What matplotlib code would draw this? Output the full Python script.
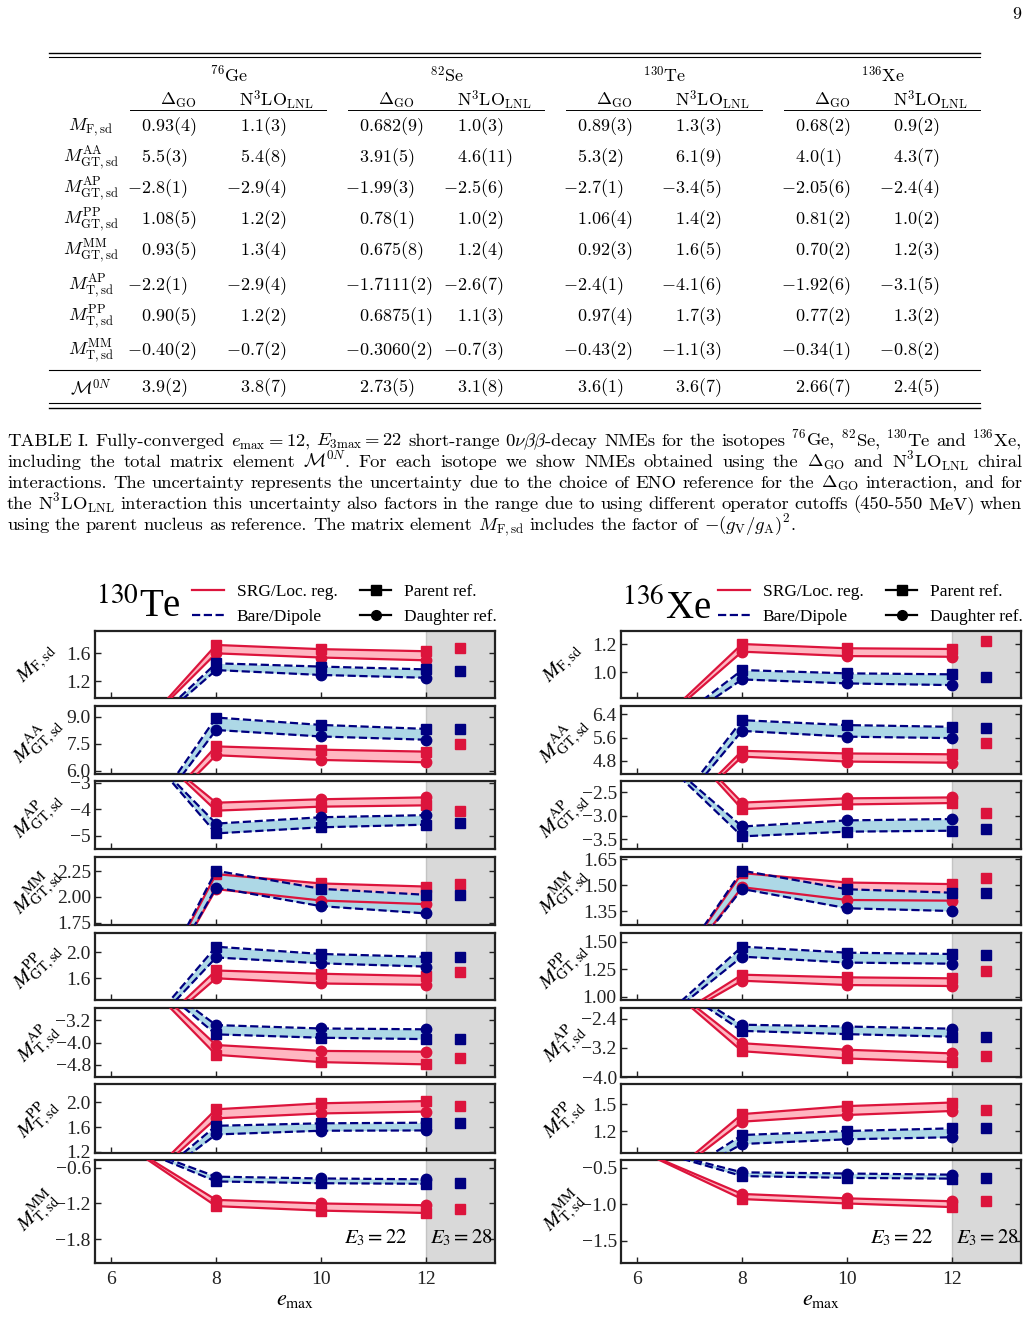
import matplotlib
matplotlib.use('Agg')
import matplotlib.pyplot as plt
from matplotlib.lines import Line2D

plt.rcParams['font.family'] = ['Liberation Serif', 'DejaVu Serif']
plt.rcParams['mathtext.fontset'] = 'stix'

W, H = 1029, 1342

# ---------------- data: plot ----------------
emax = [6, 8, 10, 12]
e3_28_pos = 12.65

panel_labels = [r'$M_{\mathrm{F,sd}}$', r'$M^{\mathrm{AA}}_{\mathrm{GT,sd}}$',
                r'$M^{\mathrm{AP}}_{\mathrm{GT,sd}}$', r'$M^{\mathrm{MM}}_{\mathrm{GT,sd}}$',
                r'$M^{\mathrm{PP}}_{\mathrm{GT,sd}}$', r'$M^{\mathrm{AP}}_{\mathrm{T,sd}}$',
                r'$M^{\mathrm{PP}}_{\mathrm{T,sd}}$', r'$M^{\mathrm{MM}}_{\mathrm{T,sd}}$']

# 130Te, rows = panels, cols = emax 6, 8, 10, 12
te_srg_parent = [[0.05, 1.72, 1.66, 1.63], [1.0, 7.35, 7.17, 7.06], [-0.3, -4.05, -3.9, -3.85],
                 [0.3, 2.22, 2.13, 2.10], [0.2, 1.72, 1.67, 1.635], [-0.6, -4.44, -4.70, -4.78],
                 [0.2, 1.887, 1.984, 2.02], [-0.05, -1.245, -1.32, -1.36]]
te_srg_daughter = [[0.1, 1.60, 1.54, 1.50], [1.0, 6.86, 6.60, 6.47], [-0.5, -3.75, -3.62, -3.55],
                   [0.3, 2.075, 1.965, 1.93], [0.2, 1.60, 1.52, 1.50], [-0.6, -4.09, -4.30, -4.33],
                   [0.2, 1.74, 1.82, 1.85], [-0.05, -1.14, -1.20, -1.23]]
te_bare_parent = [[0.05, 1.457, 1.41, 1.37], [0.5, 8.95, 8.54, 8.32], [-0.3, -4.91, -4.68, -4.58],
                  [0.3, 2.253, 2.078, 2.02], [0.2, 2.086, 1.974, 1.93], [-0.6, -3.71, -3.83, -3.88],
                  [0.2, 1.62, 1.66, 1.67], [-0.1, -0.83, -0.86, -0.87]]
te_bare_daughter = [[0.05, 1.36, 1.29, 1.25], [0.5, 8.26, 7.90, 7.72], [-0.5, -4.54, -4.30, -4.22],
                    [0.3, 2.09, 1.91, 1.84], [0.2, 1.92, 1.83, 1.78], [-0.6, -3.38, -3.50, -3.53],
                    [0.2, 1.48, 1.54, 1.545], [-0.1, -0.75, -0.78, -0.795]]
te_e28_srg = [1.68, 7.5, -4.06, 2.12, 1.70, -4.57, 1.94, -1.29]
te_e28_bare = [1.35, 8.3, -4.5, 2.02, 1.92, -3.88, 1.67, -0.86]
te_ylims = [(0.96, 1.92), (5.82, 9.59), (-5.5, -2.93), (1.728, 2.386),
            (1.266, 2.297), (-5.23, -2.77), (1.18, 2.296), (-2.2, -0.47)]
te_yticks = [[1.2, 1.6], [6.0, 7.5, 9.0], [-5, -4, -3], [1.75, 2.0, 2.25],
             [1.6, 2.0], [-4.8, -4.0, -3.2], [1.2, 1.6, 2.0], [-1.8, -1.2, -0.6]]

# 136Xe
xe_srg_parent = [[0.5, 1.20, 1.17, 1.165], [1.5, 5.14, 5.05, 5.02], [-0.4, -2.86, -2.76, -2.73],
                 [0.7, 1.57, 1.515, 1.506], [0.6, 1.20, 1.176, 1.167], [-0.8, -3.29, -3.49, -3.59],
                 [0.4, 1.39, 1.48, 1.52], [-0.25, -0.93, -0.99, -1.04]]
xe_srg_daughter = [[0.5, 1.146, 1.115, 1.11], [1.5, 4.94, 4.77, 4.73], [-0.4, -2.72, -2.63, -2.61],
                   [0.7, 1.488, 1.414, 1.41], [0.6, 1.145, 1.106, 1.097], [-0.8, -3.07, -3.25, -3.35],
                   [0.4, 1.305, 1.38, 1.425], [-0.25, -0.86, -0.92, -0.96]]
xe_bare_parent = [[0.45, 1.016, 0.993, 0.986], [1.5, 6.20, 6.03, 5.97], [-1.3, -3.44, -3.34, -3.32],
                  [0.7, 1.584, 1.476, 1.456], [0.6, 1.455, 1.40, 1.388], [-0.8, -2.73, -2.82, -2.89],
                  [0.4, 1.155, 1.20, 1.23], [-0.2, -0.615, -0.64, -0.65]]
xe_bare_daughter = [[0.45, 0.95, 0.922, 0.91], [1.5, 5.83, 5.63, 5.58], [-1.3, -3.23, -3.10, -3.07],
                    [0.7, 1.478, 1.366, 1.35], [0.6, 1.364, 1.31, 1.30], [-0.8, -2.56, -2.61, -2.67],
                    [0.4, 1.054, 1.107, 1.13], [-0.2, -0.564, -0.58, -0.596]]
xe_e28_srg = [1.223, 5.42, -2.95, 1.54, 1.235, -3.41, 1.435, -0.955]
xe_e28_bare = [0.969, 5.94, -3.28, 1.456, 1.38, -2.89, 1.23, -0.645]
xe_ylims = [(0.819, 1.292), (4.34, 6.69), (-3.71, -2.26), (1.269, 1.663),
            (0.97, 1.579), (-4.0, -2.1), (0.953, 1.728), (-1.805, -0.395)]
xe_yticks = [[1.0, 1.2], [4.8, 5.6, 6.4], [-3.5, -3.0, -2.5], [1.35, 1.50, 1.65],
             [1.00, 1.25, 1.50], [-4.0, -3.2, -2.4], [1.2, 1.5], [-1.5, -1.0, -0.5]]

# ---------------- data: table ----------------
table_rows = [r'$M_{\mathrm{F,sd}}$', r'$M^{\mathrm{AA}}_{\mathrm{GT,sd}}$',
              r'$M^{\mathrm{AP}}_{\mathrm{GT,sd}}$', r'$M^{\mathrm{PP}}_{\mathrm{GT,sd}}$',
              r'$M^{\mathrm{MM}}_{\mathrm{GT,sd}}$', r'$M^{\mathrm{AP}}_{\mathrm{T,sd}}$',
              r'$M^{\mathrm{PP}}_{\mathrm{T,sd}}$', r'$M^{\mathrm{MM}}_{\mathrm{T,sd}}$',
              r'$\mathcal{M}^{0N}$']
isotopes = [r'$^{76}$Ge', r'$^{82}$Se', r'$^{130}$Te', r'$^{136}$Xe']
ge_dgo = ['0.93(4)', '5.5(3)', '-2.8(1)', '1.08(5)', '0.93(5)', '-2.2(1)', '0.90(5)', '-0.40(2)', '3.9(2)']
ge_n3lo = ['1.1(3)', '5.4(8)', '-2.9(4)', '1.2(2)', '1.3(4)', '-2.9(4)', '1.2(2)', '-0.7(2)', '3.8(7)']
se_dgo = ['0.682(9)', '3.91(5)', '-1.99(3)', '0.78(1)', '0.675(8)', '-1.7111(2)', '0.6875(1)', '-0.3060(2)', '2.73(5)']
se_n3lo = ['1.0(3)', '4.6(11)', '-2.5(6)', '1.0(2)', '1.2(4)', '-2.6(7)', '1.1(3)', '-0.7(3)', '3.1(8)']
te_dgo = ['0.89(3)', '5.3(2)', '-2.7(1)', '1.06(4)', '0.92(3)', '-2.4(1)', '0.97(4)', '-0.43(2)', '3.6(1)']
te_n3lo = ['1.3(3)', '6.1(9)', '-3.4(5)', '1.4(2)', '1.6(5)', '-4.1(6)', '1.7(3)', '-1.1(3)', '3.6(7)']
xe_dgo = ['0.68(2)', '4.0(1)', '-2.05(6)', '0.81(2)', '0.70(2)', '-1.92(6)', '0.77(2)', '-0.34(1)', '2.66(7)']
xe_n3lo = ['0.9(2)', '4.3(7)', '-2.4(4)', '1.0(2)', '1.2(3)', '-3.1(5)', '1.3(2)', '-0.8(2)', '2.4(5)']

caption = [
    r'TABLE I. Fully-converged $e_{\mathrm{max}}=12$, $E_{3\mathrm{max}}=22$ short-range $0\nu\beta\beta$-decay NMEs for the isotopes $^{76}$Ge, $^{82}$Se, $^{130}$Te and $^{136}$Xe,',
    r'including the total matrix element $\mathcal{M}^{0N}$. For each isotope we show NMEs obtained using the $\Delta_{\mathrm{GO}}$ and N$^3$LO$_{\mathrm{LNL}}$ chiral',
    r'interactions. The uncertainty represents the uncertainty due to the choice of ENO reference for the $\Delta_{\mathrm{GO}}$ interaction, and for',
    r'the N$^3$LO$_{\mathrm{LNL}}$ interaction this uncertainty also factors in the range due to using different operator cutoffs (450-550 MeV) when',
    r'using the parent nucleus as reference. The matrix element $M_{\mathrm{F,sd}}$ includes the factor of $-(g_{\mathrm{V}}/g_{\mathrm{A}})^2$.',
]

RED = '#dc143c'
NAVY = '#000080'
PINK = '#ffb6c1'
LBLUE = '#add8e6'

fig = plt.figure(figsize=(W / 100, H / 100), dpi=100)


def fx(x):
    return x / W


def fy(y):
    return 1 - y / H


TEX = dict(family='cmr10', math_fontfamily='cm')

# ---------------- table ----------------
fig.text(fx(1017), fy(14), '9', fontsize=13, ha='center', va='center', **TEX)


def hline(y, x0=49, x1=980, lw=1.0):
    fig.add_artist(Line2D([fx(x0), fx(x1)], [fy(y), fy(y)], lw=lw, color='k'))


hline(52.5)
hline(57, lw=0.8)
hline(370, lw=0.8)
hline(403, lw=0.8)
hline(408)

iso_cx = [229, 447, 665, 883]
for k, iso in enumerate(isotopes):
    fig.text(fx(iso_cx[k]), fy(75), iso, fontsize=13, ha='center', va='center', **TEX)
    fig.text(fx(iso_cx[k] - 51), fy(100), r'$\Delta_{\mathrm{GO}}$', fontsize=13, ha='center', va='center', **TEX)
    fig.text(fx(iso_cx[k] + 47), fy(100), r'N$^3$LO$_{\mathrm{LNL}}$', fontsize=13, ha='center', va='center', **TEX)
    hline(110, iso_cx[k] - 99, iso_cx[k] + 97, lw=0.7)

row_y = [127, 158, 189, 220, 251, 286, 317, 351, 388]
col_x = [141, 240, 359, 457, 577, 675, 795, 893]
columns = [ge_dgo, ge_n3lo, se_dgo, se_n3lo, te_dgo, te_n3lo, xe_dgo, xe_n3lo]
for r, lab in enumerate(table_rows):
    fig.text(fx(91), fy(row_y[r]), lab, fontsize=13, ha='center', va='center', **TEX)
    for c, col in enumerate(columns):
        s = col[r]
        x = col_x[c]
        if s.startswith('-'):
            x -= 14
        fig.text(fx(x), fy(row_y[r]), '$' + s + '$', fontsize=13, ha='left', va='center', **TEX)

# ---------------- caption (justified) ----------------
renderer = fig.canvas.get_renderer()
cap_y = [446, 467, 488, 509, 530]
for li, line in enumerate(caption):
    words = [w for w in line.split(' ') if w]
    txts = [fig.text(0, 0, w, fontsize=13.4, va='baseline', ha='left', **TEX) for w in words]
    widths = [t.get_window_extent(renderer).width for t in txts]
    if li < len(caption) - 1:
        gap = (1022 - 7 - sum(widths)) / (len(words) - 1)
    else:
        gap = 5.5
    x = 7
    for t, w in zip(txts, widths):
        t.set_position((fx(x), fy(cap_y[li])))
        x += w + gap

# ---------------- plots ----------------
panel_px = [(631, 698), (706, 774), (781, 849), (857, 925),
            (933, 1000), (1008, 1077), (1084, 1153), (1160, 1263)]


def draw_column(x0, title, srg_p, srg_d, bare_p, bare_d, e28_srg, e28_bare, ylims, yticks):
    axes = []
    for i, (top, bot) in enumerate(panel_px):
        ax = fig.add_axes([fx(x0), fy(bot), 400 / W, (bot - top) / H])
        ax.axvspan(12, 13.4, color='#d9d9d9', lw=0, zorder=0)
        ax.axvline(12, color='#c4c4c4', lw=1.0, zorder=0.5)
        ax.fill_between(emax, srg_p[i], srg_d[i], color=PINK, lw=0, zorder=1)
        ax.fill_between(emax, bare_p[i], bare_d[i], color=LBLUE, lw=0, zorder=1.5)
        ax.plot(emax, srg_p[i], '-s', color=RED, lw=1.6, ms=7.5, zorder=3)
        ax.plot(emax, srg_d[i], '-o', color=RED, lw=1.6, ms=7.5, zorder=3)
        ax.plot(emax, bare_p[i], '--s', color=NAVY, lw=1.6, ms=7.5, zorder=4)
        ax.plot(emax, bare_d[i], '--o', color=NAVY, lw=1.6, ms=7.5, zorder=4)
        ax.plot([e3_28_pos], [e28_srg[i]], 's', color=RED, ms=7.5, zorder=3)
        ax.plot([e3_28_pos], [e28_bare[i]], 's', color=NAVY, ms=7.5, zorder=4)
        ax.set_xlim(5.695, 13.31)
        ax.set_ylim(ylims[i])
        ax.set_yticks(yticks[i])
        ax.set_xticks([6, 8, 10, 12])
        ax.tick_params(direction='in', right=True, labelsize=14, length=4, width=1.0,
                       colors='#222222', pad=3)
        ax.tick_params(axis='x', labelbottom=(i == len(panel_px) - 1), pad=6)
        for sp in ax.spines.values():
            sp.set_linewidth(1.6)
            sp.set_color('#222222')
        fig.text(fx(x0 - 58), fy((top + bot) / 2), panel_labels[i], fontsize=15,
                 rotation=45, ha='center', va='center')
        axes.append(ax)
    last = axes[-1]
    last.set_xlabel(r'$e_{\mathrm{max}}$', fontsize=16, labelpad=2)
    last.text(0.7825, 0.24, r'$E_3 = 22$', transform=last.transAxes, fontsize=15,
              ha='right', va='center')
    last.text(0.8375, 0.24, r'$E_3 = 28$', transform=last.transAxes, fontsize=15,
              ha='left', va='center')
    fig.text(fx(x0 + 1), fy(608), title, fontsize=28, ha='left', va='center')
    handles = [Line2D([], [], color=RED, lw=1.6),
               Line2D([], [], color=NAVY, lw=1.6, ls='--'),
               Line2D([], [], color='k', lw=1.6, marker='s', ms=7),
               Line2D([], [], color='k', lw=1.6, marker='o', ms=7)]
    axes[0].legend(handles, ['SRG/Loc. reg.', 'Bare/Dipole', 'Parent ref.', 'Daughter ref.'],
                   ncol=2, loc='lower right', bbox_to_anchor=(1.005, 1.095), frameon=False,
                   fontsize=12.5, handlelength=1.8, columnspacing=1.3, handletextpad=0.75,
                   labelspacing=0.5, borderpad=0, borderaxespad=0)


draw_column(95, r'$^{130}$Te', te_srg_parent, te_srg_daughter, te_bare_parent, te_bare_daughter,
            te_e28_srg, te_e28_bare, te_ylims, te_yticks)
draw_column(621, r'$^{136}$Xe', xe_srg_parent, xe_srg_daughter, xe_bare_parent, xe_bare_daughter,
            xe_e28_srg, xe_e28_bare, xe_ylims, xe_yticks)

fig.savefig('out.png', dpi=100)
